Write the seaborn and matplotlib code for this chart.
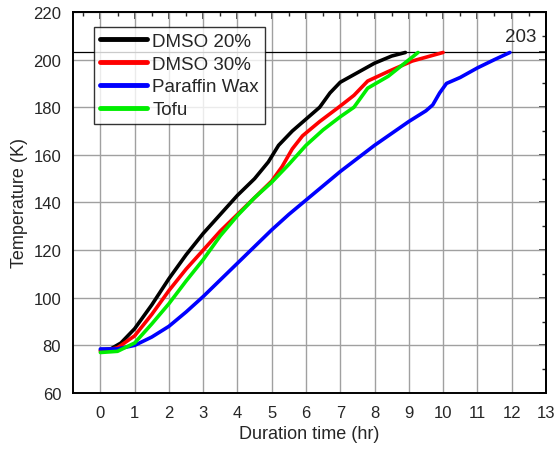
import numpy as np
import pandas as pd
import matplotlib
matplotlib.use("Agg")
import matplotlib.pyplot as plt
import seaborn as sns

# ---- data ----
dmso20_x = [0, 0.3, 0.6, 1, 1.5, 2, 2.5, 3, 3.5, 4, 4.5, 4.9, 5.2, 5.6, 6, 6.4, 6.7, 7, 7.5, 8, 8.5, 8.9]
dmso20_y = [78, 78.5, 81, 87, 97, 108, 118, 127, 135, 143, 150, 157, 164, 170, 175, 180, 186, 190.5, 194.5, 198.5, 201.5, 203]

dmso30_x = [0, 0.5, 1, 1.5, 2, 2.5, 3, 3.5, 4, 4.5, 5, 5.3, 5.6, 5.9, 6.4, 7, 7.4, 7.8, 8.4, 9.1, 10]
dmso30_y = [77.5, 79, 84, 93, 103, 112, 120, 128, 135, 142, 149, 155, 162.5, 168, 174, 180.5, 185, 191, 195, 199.4, 203]

paraffin_x = [0, 0.5, 1, 1.5, 2, 2.5, 3, 3.5, 4, 4.5, 5, 5.5, 6, 6.5, 7, 7.5, 8, 8.5, 9, 9.5, 9.7, 9.9, 10.1, 10.5, 11, 11.5, 11.95]
paraffin_y = [78.5, 78.5, 80, 83.5, 88, 94, 100.5, 107.5, 114.5, 121.5, 128.5, 135, 141, 147, 153, 158.5, 164, 169, 174, 178.5, 181, 186, 190, 192.5, 196.5, 200, 203]

tofu_x = [0, 0.5, 1, 1.5, 2, 2.5, 3, 3.5, 4, 4.5, 5, 5.5, 6, 6.5, 7, 7.4, 7.8, 8.4, 9.27]
tofu_y = [77, 77.5, 81, 89, 97.5, 107, 116, 126, 134.5, 142, 148.5, 156, 164, 170.5, 176, 180, 188, 193, 203]

series_names = ["DMSO 20%", "DMSO 30%", "Paraffin Wax", "Tofu"]
series_colors = ["#000000", "#ff0000", "#0000ff", "#00ee00"]
ref_level = 203
x_ticks = list(range(0, 14))
y_ticks = list(range(60, 221, 20))

frames = []
for name, xs, ys in zip(series_names,
                        [dmso20_x, dmso30_x, paraffin_x, tofu_x],
                        [dmso20_y, dmso30_y, paraffin_y, tofu_y]):
    frames.append(pd.DataFrame({"time": xs, "temp": ys, "series": name}))
df = pd.concat(frames, ignore_index=True)

sns.set_style("white")
plt.rcParams['font.family'] = ['Liberation Sans', 'DejaVu Sans']

fig = plt.figure(figsize=(5.57, 4.56), dpi=100)
ax = fig.add_axes([0.131, 0.136, 0.849, 0.8355])

ax.grid(True, which="major", color="#a0a0a0", linewidth=1.0)
ax.set_axisbelow(True)

sns.lineplot(data=df, x="time", y="temp", hue="series", hue_order=series_names,
             palette=dict(zip(series_names, series_colors)), sort=False,
             estimator=None, linewidth=2.6, ax=ax, legend=True, zorder=3)

ax.axhline(ref_level, color="black", linewidth=0.9, zorder=2)
ax.text(12.72, ref_level + 6.5, str(ref_level), fontsize=13.5, ha="right", va="center")

ax.set_xlim(-0.8, 13)
ax.set_ylim(60, 220)
ax.set_xticks(x_ticks)
ax.set_yticks(y_ticks)
ax.set_xticks(np.arange(-0.5, 13.01, 0.5), minor=True)
ax.set_yticks(np.arange(60, 221, 10), minor=True)
ax.tick_params(axis="both", which="major", labelsize=12, length=5, width=1.2, direction="out",
               top=False, right=False)
ax.tick_params(axis="both", which="minor", length=3, width=1.0, direction="out")
for s in ax.spines.values():
    s.set_linewidth(1.4)
    s.set_color("black")

# top / right inward ticks
secx = ax.secondary_xaxis("top")
secx.set_xticks(x_ticks)
secx.set_xticks(np.arange(-0.5, 13.01, 0.5), minor=True)
secx.tick_params(which="major", direction="in", length=5, width=1.2, labeltop=False)
secx.tick_params(which="minor", direction="in", length=3, width=1.0)
secx.spines["top"].set_linewidth(1.4)
secy = ax.secondary_yaxis("right")
secy.set_yticks(y_ticks + [ref_level])
secy.set_yticks(np.arange(60, 221, 10), minor=True)
secy.tick_params(which="major", direction="in", length=5, width=1.2, labelright=False)
secy.tick_params(which="minor", direction="in", length=3, width=1.0)
secy.spines["right"].set_linewidth(1.4)

ax.set_xlabel("Duration time (hr)", fontsize=13)
ax.set_ylabel("Temperature (K)", fontsize=13)

leg = ax.legend(loc="upper left", bbox_to_anchor=(0.045, 0.96), fontsize=13.5,
                frameon=True, fancybox=False, edgecolor="black", handlelength=2.5,
                handletextpad=0.3, borderpad=0.3, labelspacing=0.3, borderaxespad=0)
leg.get_frame().set_linewidth(1.0)
for line in leg.get_lines():
    line.set_linewidth(3.5)

fig.savefig("out.png", dpi=100)
